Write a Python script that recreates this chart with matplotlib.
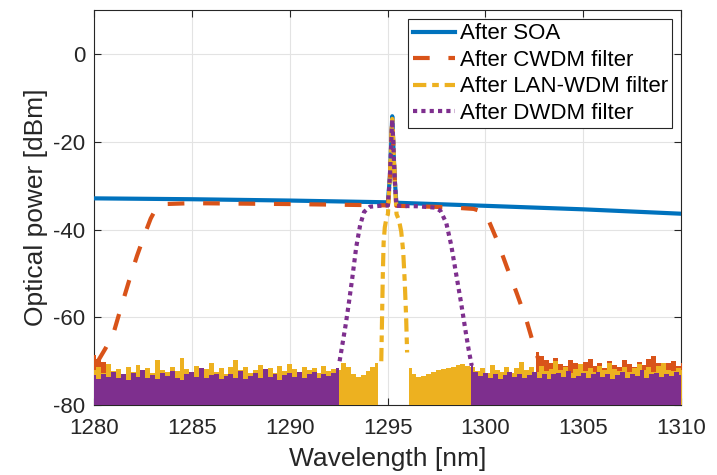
import matplotlib.pyplot as plt

plt.rcParams['font.family'] = ['Liberation Sans', 'DejaVu Sans']
plt.rcParams['axes.unicode_minus'] = False

# filter traces (wavelength nm, power dBm)
wl_soa = [1280, 1285, 1290, 1295.02, 1295.12, 1295.2, 1295.24, 1295.28, 1295.36, 1295.45, 1300, 1305, 1310]
p_soa = [-32.9, -33.1, -33.4, -33.8, -28, -19, -14.2, -19, -28, -33.9, -34.6, -35.4, -36.4]

wl_cwdm = [1280.2, 1280.6, 1281.0, 1281.4, 1281.8, 1282.2, 1282.6, 1282.9, 1283.2, 1283.6, 1285, 1290,
           1295.02, 1295.12, 1295.2, 1295.24, 1295.28, 1295.36, 1295.45, 1298, 1299.4, 1300.0, 1300.6,
           1301.1, 1301.6, 1302.1, 1302.5, 1302.7]
p_cwdm = [-70, -67, -63.6, -57.5, -51.6, -46, -41, -37.5, -35, -34.2, -34.0, -34.2,
          -34.5, -28, -19, -14.6, -19, -28, -34.6, -34.9, -35.3, -36.2, -42.5,
          -48.6, -54.5, -60.7, -66.8, -69.5]

wl_lan = [1294.68, 1294.72, 1294.76, 1294.8, 1294.86, 1294.94, 1295.02, 1295.12, 1295.2, 1295.24,
          1295.28, 1295.36, 1295.46, 1295.58, 1295.7, 1295.8, 1295.88, 1295.95, 1296.0]
p_lan = [-70, -60, -50, -43, -39.5, -37.5, -36.5, -28, -19, -14.8,
         -19, -28, -36.5, -37.8, -40.5, -45, -52, -60, -68]

wl_dwdm = [1292.55, 1292.7, 1292.85, 1293.0, 1293.2, 1293.4, 1293.6, 1293.8, 1294.1, 1294.6,
           1295.02, 1295.12, 1295.2, 1295.24, 1295.28, 1295.36, 1295.45, 1296.5, 1297.4, 1297.7,
           1298.0, 1298.25, 1298.5, 1298.75, 1299.0, 1299.15, 1299.3]
p_dwdm = [-70, -66, -62, -57.5, -51, -44, -39, -36, -34.8, -34.6,
          -34.5, -28, -19, -15.0, -19, -28, -34.6, -34.7, -35.0, -35.7,
          -38.5, -43.5, -50, -56.5, -63.5, -67.5, -71]

# noise floor tops, read every 0.25 nm (floor itself is clipped at -80)
nz_step = 0.25
nz_cwdm_l_start = 1280.0
nz_cwdm_l = [-68.6, -69.5, -70.2, -71.0]
nz_cwdm_r_start = 1302.6
nz_cwdm_r = [-68.0, -68.8, -69.6, -70.3, -69.2, -70.6, -71.0, -69.8, -70.5, -71.3,
             -70.1, -69.5, -71.0, -70.4, -71.5, -70.0, -70.8, -71.2, -69.7, -70.6,
             -71.4, -70.2, -70.9, -69.4, -68.7, -70.3, -71.1, -70.5, -69.9, -71.0, -70.4]

nz_lan_l_start = 1280.0
nz_lan_l = [-72.0, -71.4, -72.6, -70.6, -72.2, -71.8, -72.9, -71.2, -72.4, -70.8,
            -72.1, -71.6, -72.7, -69.8, -71.9, -72.5, -71.3, -72.2, -69.2, -71.7,
            -72.6, -71.0, -72.3, -71.8, -70.5, -72.4, -71.5, -72.8, -71.2, -69.6,
            -72.0, -71.4, -72.6, -71.9, -70.9, -72.3, -71.6, -72.7, -71.1, -72.2,
            -70.7, -71.8, -72.5, -71.3, -72.0, -71.5, -72.6, -71.0, -72.2, -71.7,
            -72.1, -70.5, -71.4, -72.8, -73.6, -73.2, -72.2, -71.2, -70.5]
nz_lan_r_start = 1296.1
nz_lan_r = [-71.6, -72.8, -73.6, -73.4, -73.0, -72.4, -72.0, -71.8, -71.5, -71.2,
            -70.9, -70.6, -71.0, -71.3,
            -72.2, -71.5, -72.6, -70.8, -71.9, -72.4, -71.2, -72.7, -71.6, -70.2,
            -72.1, -71.4, -72.5, -71.0, -72.3, -71.7, -69.9, -72.0, -71.3, -72.6,
            -71.8, -70.6, -72.2, -71.5, -72.4, -71.1, -72.0, -70.4, -71.8, -72.3,
            -71.2, -72.5, -71.6, -70.7, -72.1, -71.4, -72.4, -71.0, -70.3, -71.9,
            -72.2, -71.5, -72.0]

nz_dwdm_l_start = 1280.0
nz_dwdm_l = [-73.2, -74.1, -72.8, -73.6, -72.4, -73.9, -73.0, -74.3, -72.6, -73.5,
             -71.9, -73.8, -73.1, -74.0, -72.7, -73.4, -72.2, -73.7, -74.2, -73.0,
             -72.5, -73.6, -71.6, -73.9, -73.2, -72.8, -74.1, -73.3, -72.9, -73.7,
             -72.3, -74.0, -73.4, -72.6, -73.8, -71.8, -73.5, -72.9, -74.2, -73.1,
             -72.7, -73.6, -72.4, -73.9, -73.0, -72.5, -73.7, -72.8, -73.3, -72.6, -71.5]
nz_dwdm_r_start = 1299.25
nz_dwdm_r = [-70.5, -72.4, -73.3, -72.7, -73.8, -72.9, -74.0, -73.2, -72.5, -73.6,
             -72.8, -73.9, -73.1, -72.4, -73.7, -72.9, -74.1, -73.0, -72.6, -73.5,
             -72.2, -73.8, -73.3, -72.7, -73.9, -73.0, -72.5, -73.6, -72.8, -74.0,
             -73.2, -72.4, -73.7, -72.9, -73.4, -72.1, -73.8, -73.0, -72.6, -73.5,
             -72.8, -73.3, -72.5, -73.1]

c_soa = '#0072BD'
c_cwdm = '#D95319'
c_lan = '#EDB120'
c_dwdm = '#7E2F8E'


def noise(ax, start, tops, color):
    xs = [start + nz_step * i for i in range(len(tops))]
    ax.fill_between(xs, -80, tops, step='mid', color=color, lw=0, zorder=3)


fig = plt.figure(figsize=(7.17, 4.75), dpi=100)
ax = fig.add_axes([0.131, 0.147, 0.819, 0.832])

lw = 3
ax.plot(wl_soa, p_soa, color=c_soa, lw=lw, label='After SOA', zorder=3)

noise(ax, nz_cwdm_l_start, nz_cwdm_l, c_cwdm)
noise(ax, nz_cwdm_r_start, nz_cwdm_r, c_cwdm)
ax.plot(wl_cwdm, p_cwdm, color=c_cwdm, lw=lw, dashes=(4, 4.5), label='After CWDM filter', zorder=3)

noise(ax, nz_lan_l_start, nz_lan_l, c_lan)
noise(ax, nz_lan_r_start, nz_lan_r, c_lan)
ax.plot(wl_lan, p_lan, color=c_lan, lw=lw, dashes=(3.2, 1.4, 1.6, 1.4), label='After LAN-WDM filter', zorder=3)

noise(ax, nz_dwdm_l_start, nz_dwdm_l, c_dwdm)
noise(ax, nz_dwdm_r_start, nz_dwdm_r, c_dwdm)
ax.plot(wl_dwdm, p_dwdm, color=c_dwdm, lw=lw, dashes=(1, 1), label='After DWDM filter', zorder=3)

ax.set_xlim(1280, 1310)
ax.set_ylim(-80, 10)
ax.set_xticks([1280, 1285, 1290, 1295, 1300, 1305, 1310])
ax.set_yticks([-80, -60, -40, -20, 0])
ax.grid(True, color='#e3e3e3', lw=0.8)
ax.set_axisbelow(True)
ax.tick_params(direction='in', top=True, right=True, length=5, labelsize=16,
               colors='#262626', width=0.8)
ax.tick_params(axis='x', pad=9)
ax.tick_params(axis='y', pad=6)
for s in ax.spines.values():
    s.set_color('#262626')
    s.set_linewidth(0.8)

ax.set_xlabel('Wavelength [nm]', fontsize=19, color='#262626', labelpad=6)
ax.set_ylabel('Optical power [dBm]', fontsize=19, color='#262626', labelpad=4)

leg = ax.legend(loc='upper right', fontsize=16, handlelength=1.9, handletextpad=0.22,
                labelspacing=0.25, borderpad=0.2, borderaxespad=0.4, fancybox=False,
                framealpha=1, edgecolor='#262626')
leg.get_frame().set_linewidth(0.8)

fig.savefig('out.png', dpi=100)
